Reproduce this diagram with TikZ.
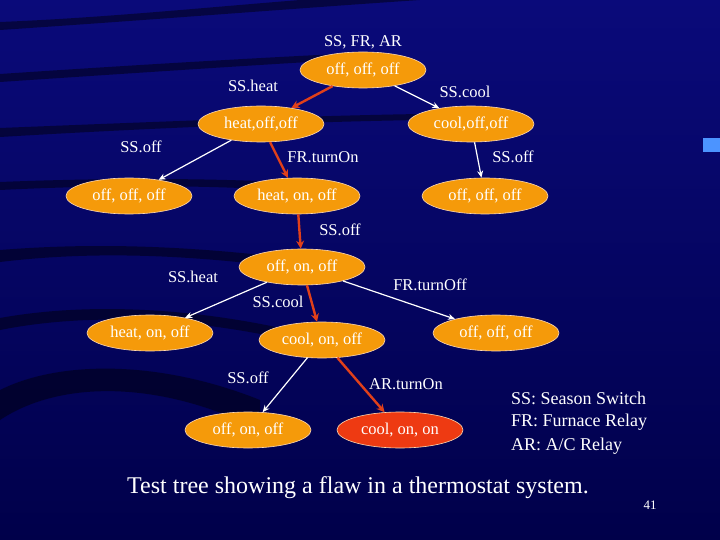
\documentclass[tikz,border=0pt]{standalone}
\usepackage{fontspec}
\setmainfont{Liberation Serif}
\usetikzlibrary{shapes.geometric,arrows.meta}
\definecolor{bgA}{HTML}{0A0A7A}
\definecolor{bgB}{HTML}{00004A}
\definecolor{nodeor}{HTML}{F59A0A}
\definecolor{nodered}{HTML}{EE3A12}
\definecolor{flaw}{HTML}{E0401A}
\tikzset{
 st/.style={ellipse,draw=orange!30!white,line width=0.6pt,fill=nodeor,text=white,minimum width=126pt,minimum height=36pt,inner sep=0pt,font=\fontsize{16.5}{18}\selectfont},
 lab/.style={text=white,font=\fontsize{16.5}{18}\selectfont,inner sep=0pt},
 ok/.style={draw=white,line width=1.2pt,-{Stealth[length=7pt,width=6pt]}},
 bad/.style={draw=flaw,line width=2.4pt,-{Stealth[length=8pt,width=8pt]}},
}
\begin{document}
\begin{tikzpicture}[x=1pt,y=-1pt]
\path[top color=bgA,bottom color=bgB] (0,0) rectangle (720,540);
\useasboundingbox (0,0) rectangle (720,540);
\begin{scope}[black,opacity=0.45]
\fill (0,30) .. controls (150,20) and (300,8) .. (420,0) -- (300,0) .. controls (200,8) and (100,18) .. (0,22) -- cycle;
\fill (0,82) .. controls (150,72) and (300,62) .. (380,58) -- (380,52) .. controls (250,58) and (120,66) .. (0,74) -- cycle;
\fill (0,137) .. controls (150,128) and (300,122) .. (420,120) -- (420,114) .. controls (300,116) and (150,122) .. (0,128) -- cycle;
\fill (0,190) .. controls (100,185) and (200,185) .. (280,190) -- (280,182) .. controls (200,178) and (100,178) .. (0,182) -- cycle;
\fill (0,262) .. controls (100,250) and (200,255) .. (320,272) -- (320,262) .. controls (200,246) and (100,242) .. (0,250) -- cycle;
\fill (0,330) .. controls (100,310) and (220,320) .. (330,350) -- (330,340) .. controls (220,310) and (100,300) .. (0,318) -- cycle;
\fill (0,420) .. controls (60,380) and (160,380) .. (260,430) -- (260,400) .. controls (160,360) and (60,360) .. (0,390) -- cycle;
\end{scope}
\fill[blue!60!cyan!70] (703,138) rectangle (720,152);
\node[st] (n0) at (363,70) {off, off, off};
\node[st] (n1) at (261,124) {heat,off,off};
\node[st] (n2) at (471,124) {cool,off,off};
\node[st] (n3) at (129,196) {off, off, off};
\node[st] (n4) at (297,196) {heat, on, off};
\node[st] (n5) at (485,196) {off, off, off};
\node[st] (n6) at (302,267) {off, on, off};
\node[st] (n7) at (150,333) {heat, on, off};
\node[st] (n8) at (322,340) {cool, on, off};
\node[st] (n9) at (496,333) {off, off, off};
\node[st] (n10) at (248,430) {off, on, off};
\node[st,fill=nodered] (n11) at (400,430) {cool, on, on};
\node[lab] (t0) at (363,42) {SS, FR, AR};
\draw[bad] (n0) -- (n1);
\draw[ok] (n0) -- (n2);
\draw[ok] (n1) -- (n3);
\draw[bad] (n1) -- (n4);
\draw[ok] (n2) -- (n5);
\draw[bad] (n4) -- (n6);
\draw[ok] (n6) -- (n7);
\draw[bad] (n6) -- (n8);
\draw[ok] (n6) -- (n9);
\draw[ok] (n8) -- (n10);
\draw[bad] (n8) -- (n11);
\node[lab] (l1) at (253,86) {SS.heat};
\node[lab] (l2) at (465,92) {SS.cool};
\node[lab] (l3) at (141,147) {SS.off};
\node[lab] (l4) at (323,157) {FR.turnOn};
\node[lab] (l5) at (513,157) {SS.off};
\node[lab] (l6) at (340,230) {SS.off};
\node[lab] (l7) at (193,277) {SS.heat};
\node[lab] (l8) at (430,285) {FR.turnOff};
\node[lab] (l9) at (278,302) {SS.cool};
\node[lab] (l10) at (248,378) {SS.off};
\node[lab] (l11) at (406,384) {AR.turnOn};
\node[lab,anchor=west,font=\fontsize{18}{20}\selectfont] (g1) at (511,398) {SS: Season Switch};
\node[lab,anchor=west,font=\fontsize{18}{20}\selectfont] (g2) at (511,422) {FR: Furnace Relay};
\node[lab,anchor=west,font=\fontsize{18}{20}\selectfont] (g3) at (511,446) {AR: A/C Relay};
\node[lab,font=\fontsize{24}{26}\selectfont] (title) at (358,488) {Test tree showing a flaw in a thermostat system.};
\node[lab,font=\fontsize{13}{14}\selectfont] (pg) at (650,505) {41};
\end{tikzpicture}
\end{document}
